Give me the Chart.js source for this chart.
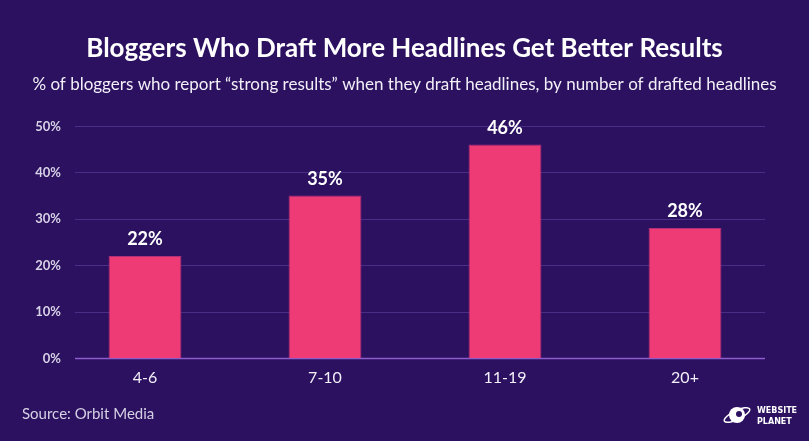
<!DOCTYPE html>
<html>
<head>
<meta charset="utf-8">
<script src="https://cdn.jsdelivr.net/npm/chart.js@4.4.1/dist/chart.umd.min.js"></script>
<style>
  html, body { margin: 0; padding: 0; background: #2b1160; }
  #wrap { width: 809px; height: 441px; position: relative; }
</style>
</head>
<body>
<div id="wrap"><canvas id="c" width="809" height="441"></canvas></div>
<script>
const categories = ["4-6", "7-10", "11-19", "20+"];
const values = [22, 35, 46, 28];
const yTicks = [0, 10, 20, 30, 40, 50];
const titleText = "Bloggers Who Draft More Headlines Get Better Results";
const subtitleText = "% of bloggers who report \u201cstrong results\u201d when they draft headlines, by number of drafted headlines";
const sourceText = "Source: Orbit Media";

const BG = "#2b1160";
const BAR = "#ee3a75";
const GRID = "#4a2e86";
const BASE = "#8d5ccc";

const bgPlugin = {
  id: "bg",
  beforeDraw(chart) {
    const ctx = chart.ctx;
    ctx.save();
    ctx.fillStyle = BG;
    ctx.fillRect(0, 0, chart.width, chart.height);
    ctx.restore();
  }
};

const gridPlugin = {
  id: "customGrid",
  beforeDatasetsDraw(chart) {
    const ctx = chart.ctx;
    const y = chart.scales.y;
    const a = chart.chartArea;
    const x0 = a.left + 20, x1 = a.right - 10;
    ctx.save();
    yTicks.forEach(v => {
      const py = Math.round(y.getPixelForValue(v)) + 0.5;
      ctx.beginPath();
      ctx.strokeStyle = v === 0 ? BASE : GRID;
      ctx.lineWidth = v === 0 ? 1.5 : 1;
      ctx.moveTo(x0, py);
      ctx.lineTo(x1, py);
      ctx.stroke();
    });
    // y tick labels
    ctx.fillStyle = "#d8d2e6";
    ctx.font = "bold 13px Lato";
    ctx.textAlign = "right";
    ctx.textBaseline = "middle";
    yTicks.forEach(v => {
      ctx.fillText(v + "%", a.left + 6, y.getPixelForValue(v) + 0.5);
    });
    ctx.restore();
  }
};

const textPlugin = {
  id: "texts",
  afterDatasetsDraw(chart) {
    const ctx = chart.ctx;
    ctx.save();
    const meta = chart.getDatasetMeta(0);
    ctx.fillStyle = "#ffffff";
    ctx.font = "bold 18px Lato";
    ctx.textAlign = "center";
    ctx.textBaseline = "alphabetic";
    meta.data.forEach((bar, i) => {
      ctx.fillText(values[i] + "%", bar.x, bar.y - 11);
    });
    ctx.font = "bold 26px Lato";
    ctx.fillText(titleText, chart.width / 2, 57);
    ctx.font = "17px Lato";
    ctx.fillStyle = "#f2eff8";
    ctx.fillText(subtitleText, chart.width / 2, 90);
    ctx.textAlign = "left";
    ctx.font = "15px Lato";
    ctx.fillStyle = "#d6d0e4";
    ctx.fillText(sourceText, 22, 419);
    // logo
    const lx = 737, ly = 415;
    ctx.fillStyle = "#ffffff";
    ctx.beginPath();
    ctx.arc(lx, ly, 8, 0, Math.PI * 2);
    ctx.fill();
    ctx.strokeStyle = "#ffffff";
    ctx.lineWidth = 1.5;
    ctx.beginPath();
    ctx.ellipse(lx, ly, 14, 4.5, -0.45, 0, Math.PI * 2);
    ctx.stroke();
    ctx.fillStyle = BG;
    ctx.beginPath();
    ctx.arc(lx + 2, ly - 1, 3, 0, Math.PI * 2);
    ctx.fill();
    ctx.fillStyle = "#ffffff";
    ctx.font = "bold 8px 'DejaVu Sans'";
    ctx.textAlign = "left";
    ctx.fillText("WEBSITE", 757, 413);
    ctx.fillText("PLANET", 757, 424);
    ctx.restore();
  }
};

new Chart(document.getElementById("c"), {
  type: "bar",
  data: {
    labels: categories,
    datasets: [{
      data: values,
      backgroundColor: BAR,
      borderColor: "#b23078",
      borderWidth: 1,
      barPercentage: 0.405,
      categoryPercentage: 1.0
    }]
  },
  options: {
    responsive: false,
    animation: false,
    devicePixelRatio: 1,
    layout: { padding: { top: 126, right: 34, left: 0, bottom: 0 } },
    plugins: {
      legend: { display: false },
      title: { display: false },
      tooltip: { enabled: false }
    },
    scales: {
      x: {
        grid: { display: false, drawTicks: false },
        border: { display: false },
        ticks: {
          color: "#f2eff8",
          font: { family: "Lato", size: 16 },
          padding: 10
        },
        afterFit(scale) { scale.height = 83; }
      },
      y: {
        min: 0,
        max: 50,
        afterBuildTicks(scale) { scale.ticks = yTicks.map(v => ({ value: v })); },
        grid: { display: false, drawTicks: false },
        border: { display: false },
        ticks: { display: false },
        afterFit(scale) { scale.width = 55; }
      }
    }
  },
  plugins: [bgPlugin, gridPlugin, textPlugin]
});
</script>
</body>
</html>
